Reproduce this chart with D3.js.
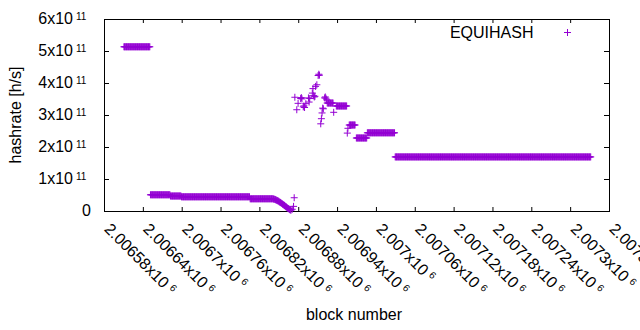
<!DOCTYPE html>
<html>
<head>
<meta charset="utf-8">
<script src="https://cdn.jsdelivr.net/npm/d3@7/dist/d3.min.js"></script>
<style>
  body { margin: 0; background: #fff; }
  text { font-family: "Liberation Sans", Arial, sans-serif; fill: #000; }
</style>
</head>
<body>
<svg id="chart" width="640" height="330"></svg>
<script>
// hashrate values are in units of 1e11 h/s

// runs of blocks with the same hashrate: first block, last block, value
const runStart = [2006610, 2006651, 2006682, 2006699, 2006805, 2006924, 2006938, 2006958, 2006969, 2006986, 2007029];
const runEnd   = [2006650, 2006681, 2006698, 2006804, 2006840, 2006933, 2006954, 2006967, 2006985, 2007028, 2007331];
const runValue = [5.147, 0.522, 0.484, 0.459, 0.397, 3.39, 3.297, 2.703, 2.297, 2.459, 1.706];

// single blocks (the drop to zero and the noisy part after it)
const pointBlock = [
  2006841, 2006842, 2006843, 2006844, 2006845, 2006846, 2006847, 2006848, 2006849, 2006850,
  2006851, 2006852, 2006853, 2006854, 2006855, 2006856, 2006857, 2006858, 2006859, 2006860,
  2006861, 2006862, 2006863, 2006864, 2006865, 2006866, 2006867, 2006868, 2006870, 2006872,
  2006873, 2006874, 2006877, 2006879, 2006883, 2006884, 2006885, 2006887, 2006888, 2006889,
  2006891, 2006895, 2006896, 2006897, 2006901, 2006902, 2006903, 2006904, 2006905, 2006906,
  2006908, 2006910, 2006911, 2006912, 2006914, 2006915, 2006916, 2006917, 2006918, 2006920,
  2006921, 2006922, 2006923, 2006934, 2006955, 2006956
];
const pointValue = [
  0.39, 0.385, 0.38, 0.37, 0.36, 0.35, 0.34, 0.33, 0.32, 0.30,
  0.29, 0.28, 0.26, 0.25, 0.23, 0.22, 0.20, 0.19, 0.17, 0.15,
  0.14, 0.12, 0.10, 0.09, 0.08, 0.06, 0.05, 0.04, 0.07, 0.16,
  0.43, 3.57, 3.18, 3.38, 3.53, 3.56, 3.52, 3.27, 3.30, 3.25,
  3.37, 3.55, 3.42, 3.53, 3.70, 3.84, 3.62, 3.58, 3.60, 3.91,
  3.96, 4.25, 4.29, 4.26, 2.74, 2.90, 3.08, 3.23, 3.21, 3.55,
  3.58, 3.54, 3.49, 3.10, 2.45, 2.60
];

const xTicks = [2006580, 2006640, 2006700, 2006760, 2006820, 2006880, 2006940,
                2007000, 2007060, 2007120, 2007180, 2007240, 2007300, 2007360];
const xTickLabels = ["2.00658", "2.00664", "2.0067", "2.00676", "2.00682", "2.00688", "2.00694",
                     "2.007", "2.00706", "2.00712", "2.00718", "2.00724", "2.0073", "2.00736"];
const xTickExp = "6";
const yTicks = [0, 1, 2, 3, 4, 5, 6];
const yTickExp = "11";
const seriesName = "EQUIHASH";
const color = "#9400d3";

const svg = d3.select("#chart");

const x = d3.scaleLinear().domain([2006580, 2007360]).range([104, 609]);
const y = d3.scaleLinear().domain([0, 6]).range([211, 19]);

// expand runs into one point per block
let points = [];
runStart.forEach(function (s, i) {
    for (let b = s; b <= runEnd[i]; b++) points.push({ block: b, value: runValue[i] });
});
pointBlock.forEach(function (b, i) {
    points.push({ block: b, value: pointValue[i] });
});

// axes, ticks point inward and are mirrored
svg.append("g").attr("transform", "translate(0,211)")
    .call(d3.axisBottom(x).tickValues(xTicks).tickSize(-4).tickFormat(""));
svg.append("g").attr("transform", "translate(0,19)")
    .call(d3.axisTop(x).tickValues(xTicks).tickSize(-4).tickFormat(""));
svg.append("g").attr("transform", "translate(104,0)")
    .call(d3.axisLeft(y).tickValues(yTicks).tickSize(-5).tickFormat(""));
svg.append("g").attr("transform", "translate(609,0)")
    .call(d3.axisRight(y).tickValues(yTicks).tickSize(-5).tickFormat(""));
svg.selectAll(".domain").remove();
svg.selectAll(".tick line").attr("stroke", "#000");
svg.append("rect")
    .attr("x", 104.5).attr("y", 19.5).attr("width", 505).attr("height", 192)
    .attr("fill", "none").attr("stroke", "#000");

// y tick labels
yTicks.forEach(function (t) {
    let ty = y(t) + 0.5;
    if (t === 0) {
        svg.append("text").attr("x", 91).attr("y", ty + 4.5)
            .attr("text-anchor", "end").style("font-size", "16px").text("0");
    } else {
        svg.append("text").attr("x", 73).attr("y", ty + 4.5)
            .attr("text-anchor", "end").style("font-size", "16px").text(t + "x10");
        svg.append("text").attr("x", 76).attr("y", ty + 0.5)
            .style("font-size", "10px").text(yTickExp);
    }
});

// x tick labels, rotated
xTicks.forEach(function (t, i) {
    let lbl = svg.append("text")
        .attr("transform", "translate(" + (x(t) - 0.5) + ",230) rotate(45)")
        .style("font-size", "16px");
    lbl.append("tspan").text(xTickLabels[i] + "x10");
    lbl.append("tspan").attr("dx", 4).attr("dy", -5).style("font-size", "10px").text(xTickExp);
});

// axis titles
svg.append("text").attr("x", 354).attr("y", 320).attr("text-anchor", "middle")
    .style("font-size", "16px").text("block number");
svg.append("text").attr("transform", "translate(21,115) rotate(-90)").attr("text-anchor", "middle")
    .style("font-size", "16px").text("hashrate [h/s]");

// points as "+" marks
function plus(px, py) {
    return "M" + (px - 3.5) + "," + py + "h7M" + px + "," + (py - 3.5) + "v7";
}
svg.append("g").attr("class", "points")
    .selectAll("path").data(points).enter().append("path")
    .attr("d", function (d) { return plus(x(d.block) + 0.5, y(d.value) + 0.5); })
    .attr("stroke", color).attr("stroke-width", 1).attr("fill", "none");

// legend
svg.append("text").attr("x", 533.5).attr("y", 37.5).attr("text-anchor", "end")
    .style("font-size", "16px").text(seriesName);
svg.append("path").attr("d", plus(567.5, 32.5))
    .attr("stroke", color).attr("stroke-width", 1).attr("fill", "none");
</script>
</body>
</html>
